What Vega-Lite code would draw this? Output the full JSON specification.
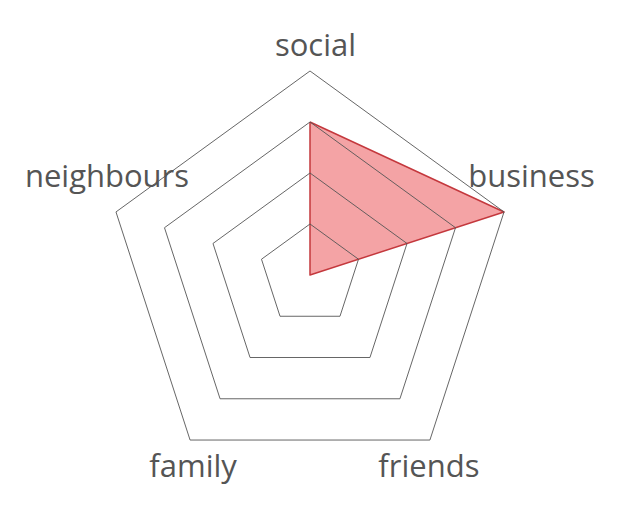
{
  "$schema": "https://vega.github.io/schema/vega-lite/v6.json",
  "width": 621,
  "height": 512,
  "autosize": {"type": "fit", "contains": "padding"},
  "padding": 0,
  "background": "white",
  "view": {"stroke": null},
  "datasets": {
    "scores": [
      {"axis": "social", "idx": 0, "value": 3},
      {"axis": "business", "idx": 1, "value": 4},
      {"axis": "friends", "idx": 2, "value": 0},
      {"axis": "family", "idx": 3, "value": 0},
      {"axis": "neighbours", "idx": 4, "value": 0},
      {"axis": "social", "idx": 5, "value": 3}
    ],
    "grid": [
      {"ring": 1, "idx": 0}, {"ring": 1, "idx": 1}, {"ring": 1, "idx": 2}, {"ring": 1, "idx": 3}, {"ring": 1, "idx": 4}, {"ring": 1, "idx": 5},
      {"ring": 2, "idx": 0}, {"ring": 2, "idx": 1}, {"ring": 2, "idx": 2}, {"ring": 2, "idx": 3}, {"ring": 2, "idx": 4}, {"ring": 2, "idx": 5},
      {"ring": 3, "idx": 0}, {"ring": 3, "idx": 1}, {"ring": 3, "idx": 2}, {"ring": 3, "idx": 3}, {"ring": 3, "idx": 4}, {"ring": 3, "idx": 5},
      {"ring": 4, "idx": 0}, {"ring": 4, "idx": 1}, {"ring": 4, "idx": 2}, {"ring": 4, "idx": 3}, {"ring": 4, "idx": 4}, {"ring": 4, "idx": 5}
    ],
    "labels": [
      {"axis": "social", "idx": 0},
      {"axis": "business", "idx": 1},
      {"axis": "friends", "idx": 2},
      {"axis": "family", "idx": 3},
      {"axis": "neighbours", "idx": 4}
    ]
  },
  "layer": [
    {
      "data": {"name": "scores"},
      "transform": [
        {"calculate": "datum.value / 4 * sin(datum.idx * 2 * PI / 5)", "as": "px"},
        {"calculate": "datum.value / 4 * cos(datum.idx * 2 * PI / 5)", "as": "py"}
      ],
      "mark": {"type": "line", "fill": "#f4a3a5", "stroke": "#c4383d", "strokeWidth": 1.5, "strokeJoin": "round"},
      "encoding": {
        "x": {"field": "px", "type": "quantitative", "scale": {"domain": [-1.5196, 1.5245]}, "axis": null},
        "y": {"field": "py", "type": "quantitative", "scale": {"domain": [-1.1618, 1.348]}, "axis": null},
        "order": {"field": "idx", "type": "quantitative"}
      }
    },
    {
      "data": {"name": "grid"},
      "transform": [
        {"calculate": "datum.ring / 4 * sin(datum.idx * 2 * PI / 5)", "as": "px"},
        {"calculate": "datum.ring / 4 * cos(datum.idx * 2 * PI / 5)", "as": "py"}
      ],
      "mark": {"type": "line", "stroke": "#555555", "strokeWidth": 0.9},
      "encoding": {
        "x": {"field": "px", "type": "quantitative", "scale": {"domain": [-1.5196, 1.5245]}, "axis": null},
        "y": {"field": "py", "type": "quantitative", "scale": {"domain": [-1.1618, 1.348]}, "axis": null},
        "detail": {"field": "ring", "type": "nominal"},
        "order": {"field": "idx", "type": "quantitative"}
      }
    },
    {
      "data": {"name": "labels"},
      "transform": [
        {"calculate": "sin(datum.idx * 2 * PI / 5)", "as": "px"},
        {"calculate": "cos(datum.idx * 2 * PI / 5)", "as": "py"}
      ],
      "encoding": {
        "x": {"field": "px", "type": "quantitative", "scale": {"domain": [-1.5196, 1.5245]}, "axis": null},
        "y": {"field": "py", "type": "quantitative", "scale": {"domain": [-1.1618, 1.348]}, "axis": null},
        "text": {"field": "axis", "type": "nominal"}
      },
      "layer": [
        {
          "transform": [{"filter": "datum.axis == 'social'"}],
          "mark": {"type": "text", "font": "Open Sans", "fontSize": 31, "fill": "#555555", "align": "center", "baseline": "alphabetic", "dx": 5.5, "dy": -15}
        },
        {
          "transform": [{"filter": "datum.axis == 'business'"}],
          "mark": {"type": "text", "font": "Open Sans", "fontSize": 31, "fill": "#555555", "align": "center", "baseline": "alphabetic", "dx": 27.5, "dy": -25}
        },
        {
          "transform": [{"filter": "datum.axis == 'friends'"}],
          "mark": {"type": "text", "font": "Open Sans", "fontSize": 31, "fill": "#555555", "align": "center", "baseline": "alphabetic", "dx": -1, "dy": 37}
        },
        {
          "transform": [{"filter": "datum.axis == 'family'"}],
          "mark": {"type": "text", "font": "Open Sans", "fontSize": 31, "fill": "#555555", "align": "center", "baseline": "alphabetic", "dx": 3, "dy": 37}
        },
        {
          "transform": [{"filter": "datum.axis == 'neighbours'"}],
          "mark": {"type": "text", "font": "Open Sans", "fontSize": 31, "fill": "#555555", "align": "center", "baseline": "alphabetic", "dx": -9, "dy": -25}
        }
      ]
    }
  ]
}
